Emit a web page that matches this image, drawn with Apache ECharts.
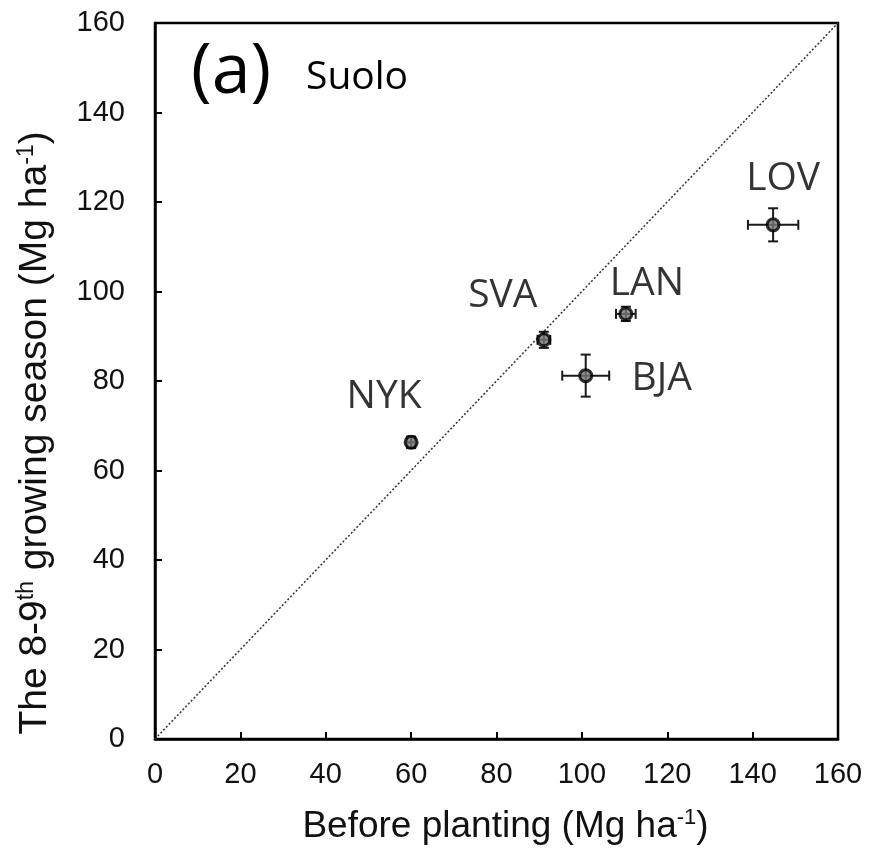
<!DOCTYPE html>
<html>
<head>
<meta charset="utf-8">
<script src="https://cdn.jsdelivr.net/npm/echarts@6/dist/echarts.min.js"></script>
<style>
  html, body { margin: 0; padding: 0; background: #fff; }
  #chart { width: 872px; height: 855px; }
</style>
</head>
<body>
<div id="chart"></div>
<script>
// sites and values
const sites = ["NYK", "SVA", "LAN", "BJA", "LOV"];
const beforePlanting = [60.0, 91.1, 110.3, 100.9, 144.8];
const growingSeason = [66.3, 89.2, 95.0, 81.2, 114.9];
const xErr = [1.0, 1.5, 2.3, 5.5, 5.9];
const yErr = [1.3, 1.8, 1.6, 4.7, 3.7];
const oneToOne = [[0, 0], [160, 160]];

// where each site label sits relative to its marker (px)
const labelOffset = {
  NYK: [-27, -45],
  SVA: [-41, -44],
  LAN: [21, -30],
  BJA: [76, 3],
  LOV: [10, -46],
};

const points = sites.map((s, i) => [beforePlanting[i], growingSeason[i], s]);
const errData = sites.map((s, i) => [beforePlanting[i], growingSeason[i], xErr[i], yErr[i]]);

const chart = echarts.init(document.getElementById("chart"));
const axisFont = "Liberation Sans, Arial, sans-serif";
const labelFont = "Open Sans, sans-serif";

const renderErr = (params, api) => {
  const x = api.value(0), y = api.value(1), ex = api.value(2), ey = api.value(3);
  const l = api.coord([x - ex, y]), r = api.coord([x + ex, y]);
  const t = api.coord([x, y + ey]), b = api.coord([x, y - ey]);
  const cap = 5;
  const style = { stroke: "#1a1a1a", lineWidth: 2 };
  const line = (x1, y1, x2, y2) => ({ type: "line", shape: { x1, y1, x2, y2 }, style });
  return {
    type: "group",
    children: [
      line(l[0], l[1], r[0], r[1]),
      line(t[0], t[1], b[0], b[1]),
      line(l[0], l[1] - cap, l[0], l[1] + cap),
      line(r[0], r[1] - cap, r[0], r[1] + cap),
      line(t[0] - cap, t[1], t[0] + cap, t[1]),
      line(b[0] - cap, b[1], b[0] + cap, b[1]),
    ],
  };
};

const supStyle = (size, pad) => ({
  fontFamily: axisFont, fontSize: size, color: "#111", verticalAlign: "top", padding: [0, 0, pad, 0],
});

const option = {
  backgroundColor: "#fff",
  animation: false,
  grid: {
    left: 155, right: 34, top: 23, bottom: 116,
    show: true, borderColor: "#000", borderWidth: 2.5,
  },
  xAxis: {
    type: "value", min: 0, max: 160, interval: 20,
    name: "Before planting (Mg ha{sup|-1})",
    nameLocation: "middle", nameGap: 68,
    nameTextStyle: {
      fontFamily: axisFont, fontSize: 37, color: "#111",
      padding: [0, 0, 0, 18],
      rich: { sup: supStyle(22, 17) },
    },
    axisLine: { show: true, lineStyle: { color: "#000", width: 2.5 } },
    axisTick: { show: true, inside: true, length: 7, lineStyle: { color: "#000", width: 2 } },
    axisLabel: { fontFamily: axisFont, fontSize: 29, color: "#111", margin: 21 },
    splitLine: { show: false },
  },
  yAxis: {
    type: "value", min: 0, max: 160, interval: 20,
    name: "The 8-9{sup|th} growing season (Mg ha{sup|-1})",
    nameLocation: "middle", nameGap: 99, nameRotate: 90,
    nameTextStyle: {
      fontFamily: axisFont, fontSize: 39, color: "#111",
      padding: [0, 104, 0, 0],
      rich: { sup: supStyle(23, 18) },
    },
    axisLine: { show: true, lineStyle: { color: "#000", width: 2.5 } },
    axisTick: { show: true, inside: true, length: 7, lineStyle: { color: "#000", width: 2 } },
    axisLabel: { fontFamily: axisFont, fontSize: 29, color: "#111", margin: 30 },
    splitLine: { show: false },
  },
  graphic: [
    { type: "text", left: 191, top: 38, style: { text: "(a)", font: "70px 'Open Sans', sans-serif", fill: "#000" } },
    { type: "text", left: 306, top: 58, style: { text: "Suolo", font: "39px 'Open Sans', sans-serif", fill: "#000" } },
  ],
  series: [
    {
      type: "line",
      data: oneToOne,
      symbol: "none",
      lineStyle: { color: "#333", width: 1.5, type: [2, 2] },
      z: 1,
    },
    {
      type: "custom",
      data: errData,
      renderItem: renderErr,
      z: 2,
    },
    {
      type: "scatter",
      data: points,
      symbol: "circle",
      symbolSize: 12,
      itemStyle: { color: "#777", borderColor: "#000", borderWidth: 3 },
      label: {
        show: true,
        position: "inside",
        formatter: (p) => p.data[2],
        fontFamily: labelFont,
        fontSize: 39,
        color: "#000",
      },
      labelLayout: (p) => {
        const name = sites[p.dataIndex];
        const off = labelOffset[name];
        const rect = p.rect;
        return {
          x: rect.x + rect.width / 2 + off[0],
          y: rect.y + rect.height / 2 + off[1],
          align: "center",
          verticalAlign: "middle",
        };
      },
      z: 3,
    },
  ],
};

chart.setOption(option);
</script>
</body>
</html>
